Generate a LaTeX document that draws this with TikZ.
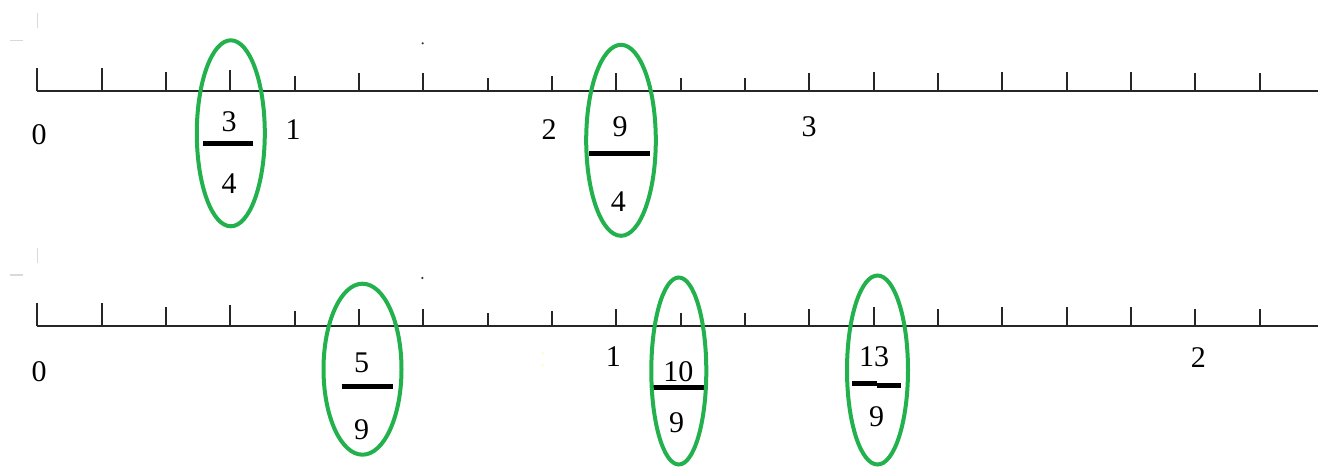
\documentclass[tikz,border=0pt]{standalone}
\usepackage{fontspec}
\setmainfont{Liberation Serif}
\definecolor{paintgreen}{RGB}{34,177,76}
\begin{document}
\begin{tikzpicture}[x=1pt,y=-1pt,
  num/.style={font=\fontsize{30}{32}\selectfont, inner sep=0pt, text=black},
  axisline/.style={line width=2pt, black!85},
  tickline/.style={line width=2pt, black!85},
  ring/.style={draw=paintgreen, line width=4pt},
  fracbar/.style={line width=5pt, black},
  faint/.style={line width=1.5pt, gray!30}]
\useasboundingbox (0,0) rectangle (1318,468);

% faint marks
\draw[faint] (37.3,13) -- (37.3,28);
\draw[faint] (10,40.7) -- (23,40.7);
\draw[faint] (37.3,248) -- (37.3,263);
\draw[faint] (10,275) -- (23,275);
\fill[black!80] (422.7,43.3) circle (1.2pt);
\fill[black!80] (422.3,278) circle (1.2pt);
\fill[yellow!35] (542.7,353) circle (1pt);
\fill[yellow!35] (542.7,365) circle (1pt);

% top number line
\coordinate (ta) at (37.3,91);
\coordinate (tb) at (1318,91);
\draw[axisline] (ta) -- (tb);
\foreach \k/\h in {0/23,1/23,2/19,3/21,4/15,5/18,6/18,7/13,8/15,9/18,10/13,11/13,12/18,13/19,14/18,15/19,16/19,17/19,18/18,19/18}
  \draw[tickline] ({37.3+64.34*\k},91) -- ++(0,-\h);

\node[num] (t0) at (39,135) {0};
\node[num] (t1) at (293,130) {1};
\node[num] (t2) at (549,130) {2};
\node[num] (t3) at (809,127) {3};

\node[num] (n34) at (229,122) {3};
\node[num] (d34) at (229,184) {4};
\coordinate (b34a) at (203,143.3);
\coordinate (b34b) at (253.3,143.3);
\draw[fracbar] (b34a) -- (b34b);

\node[num] (n94) at (620,127) {9};
\node[num] (d94) at (618.3,202) {4};
\coordinate (b94a) at (589,153.3);
\coordinate (b94b) at (650,153.3);
\draw[fracbar] (b94a) -- (b94b);

\coordinate (e1) at (230.8,133.3);
\draw[ring] (e1) ellipse [x radius=34pt, y radius=93pt];
\coordinate (e2) at (621,140.3);
\draw[ring] (e2) ellipse [x radius=34.8pt, y radius=95.5pt];

% bottom number line
\coordinate (ba) at (37.3,326);
\coordinate (bb) at (1318,326);
\draw[axisline] (ba) -- (bb);
\foreach \k/\h in {0/23,1/23,2/19,3/21,4/15,5/17,6/17,7/13,8/15,9/17,10/13,11/13,12/17,13/19,14/17,15/19,16/19,17/19,18/17,19/17}
  \draw[tickline] ({37.3+64.34*\k},326) -- ++(0,-\h);

\node[num] (u0) at (39,372) {0};
\node[num] (u1) at (613.3,357) {1};
\node[num] (u2) at (1198.3,358) {2};

\node[num] (n59) at (361.7,363.3) {5};
\node[num] (d59) at (361.7,430) {9};
\coordinate (b59a) at (341.7,386.7);
\coordinate (b59b) at (393.3,386.7);
\draw[fracbar] (b59a) -- (b59b);

\node[num] (n109) at (678.3,371.7) {10};
\node[num] (d109) at (676.7,422.3) {9};
\coordinate (b109a) at (653.3,387.7);
\coordinate (b109b) at (704,387.7);
\draw[fracbar] (b109a) -- (b109b);

\node[num] (n139) at (874,356.7) {13};
\node[num] (d139) at (876.7,416.7) {9};
\coordinate (b139a) at (852.3,383.7);
\coordinate (b139m) at (876.7,383.7);
\coordinate (b139n) at (876.7,385.8);
\coordinate (b139b) at (900.7,385.8);
\draw[fracbar] (b139a) -- (b139m);
\draw[fracbar] (b139n) -- (b139b);

\coordinate (e3) at (362.5,369.2);
\draw[ring] (e3) ellipse [x radius=39pt, y radius=85.5pt];
\coordinate (e4) at (678.8,371);
\draw[ring] (e4) ellipse [x radius=27.5pt, y radius=93.5pt];
\coordinate (e5) at (877.5,370);
\draw[ring] (e5) ellipse [x radius=30.5pt, y radius=94.5pt];
\end{tikzpicture}
\end{document}
